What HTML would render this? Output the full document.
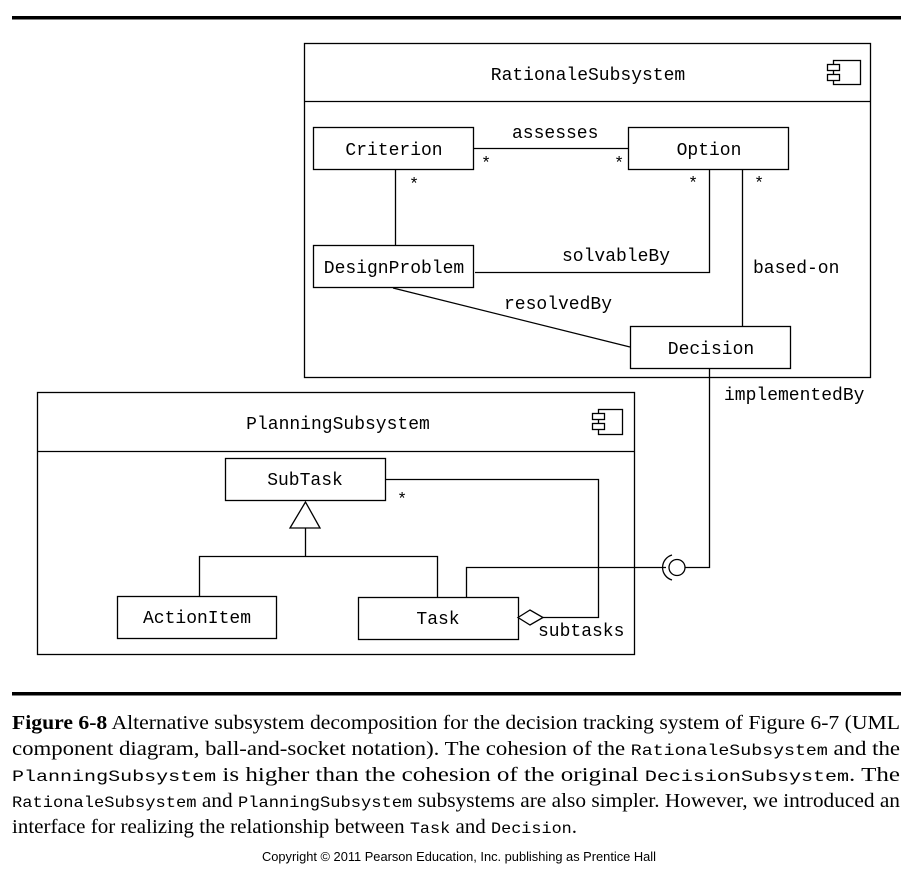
<!DOCTYPE html>
<html><head><meta charset="utf-8"><style>
html,body{margin:0;padding:0;background:#fff;}
svg{display:block}
.m{font-family:"Liberation Mono",monospace;font-size:18px;fill:#000}
.c{font-family:"Liberation Serif",serif;font-size:20px;fill:#000}
.cm{font-family:"Liberation Mono",monospace;font-size:16px}
</style></head><body>
<svg width="916" height="870" viewBox="0 0 916 870" xmlns="http://www.w3.org/2000/svg">
<rect x="12" y="16" width="889" height="3.5" fill="#000"/>
<g fill="none" stroke="#000" stroke-width="1.3">
<rect x="304.5" y="43.5" width="566" height="334"/>
<line x1="304" y1="101.5" x2="871" y2="101.5"/>
<rect x="313.5" y="127.5" width="160" height="42"/>
<rect x="628.5" y="127.5" width="160" height="42"/>
<rect x="313.5" y="245.5" width="160" height="42"/>
<rect x="630.5" y="326.5" width="160" height="42"/>
<line x1="474" y1="148.5" x2="628" y2="148.5"/>
<line x1="395.5" y1="170" x2="395.5" y2="245"/>
<polyline points="475,272.5 709.5,272.5 709.5,170"/>
<line x1="742.5" y1="170" x2="742.5" y2="326"/>
<line x1="393" y1="288" x2="630" y2="347"/>
<polyline points="709.5,369 709.5,567.5 685,567.5"/>
<rect x="833.5" y="60.5" width="27" height="24"/>
<rect x="827.5" y="64.5" width="12" height="6" fill="#fff"/>
<rect x="827.5" y="74.5" width="12" height="6" fill="#fff"/>
<rect x="37.5" y="392.5" width="597" height="262"/>
<line x1="37" y1="451.5" x2="635" y2="451.5"/>
<rect x="598.5" y="409.5" width="24" height="25"/>
<rect x="592.5" y="413.5" width="12" height="6" fill="#fff"/>
<rect x="592.5" y="423.5" width="12" height="6" fill="#fff"/>
<rect x="225.5" y="458.5" width="160" height="42"/>
<rect x="117.5" y="596.5" width="159" height="42"/>
<rect x="358.5" y="597.5" width="160" height="42"/>
<polygon points="305.5,502 290,528 320,528"/>
<line x1="305.5" y1="528" x2="305.5" y2="556"/>
<polyline points="199.5,597 199.5,556.5 437.5,556.5 437.5,597"/>
<polygon points="518,617.5 530,610 543,617.5 530,625"/>
<polyline points="543,617.5 598.5,617.5 598.5,479.5 385,479.5"/>
<polyline points="466.5,597 466.5,567.5 666,567.5"/>
<circle cx="677" cy="567.5" r="8"/>
<path d="M 672 555 A 13 13 0 0 0 672 580"/>
</g>
<g class="m">
<text x="588" y="80" text-anchor="middle">RationaleSubsystem</text>
<text x="394" y="155" text-anchor="middle">Criterion</text>
<text x="709" y="155" text-anchor="middle">Option</text>
<text x="394" y="273" text-anchor="middle">DesignProblem</text>
<text x="711" y="354" text-anchor="middle">Decision</text>
<text x="512" y="138">assesses</text>
<text x="562" y="261">solvableBy</text>
<text x="753" y="273">based-on</text>
<text x="504" y="309">resolvedBy</text>
<text x="724" y="400">implementedBy</text>
<text x="338" y="429" text-anchor="middle">PlanningSubsystem</text>
<text x="305" y="485" text-anchor="middle">SubTask</text>
<text x="197" y="623" text-anchor="middle">ActionItem</text>
<text x="438" y="624" text-anchor="middle">Task</text>
<text x="538" y="636">subtasks</text>
</g>
<g class="m" style="font-size:17px">
<text x="481" y="168">*</text>
<text x="614" y="168">*</text>
<text x="409" y="189">*</text>
<text x="688" y="188">*</text>
<text x="754" y="188">*</text>
<text x="397" y="504">*</text>
</g>
<rect x="12" y="692" width="889" height="3.5" fill="#000"/>
<text class="c" x="12" y="729" textLength="888" lengthAdjust="spacingAndGlyphs"><tspan font-weight="bold">Figure 6-8</tspan>   Alternative subsystem decomposition for the decision tracking system of Figure 6-7 (UML</text>
<text class="c" x="12" y="755" textLength="888" lengthAdjust="spacingAndGlyphs">component diagram, ball-and-socket notation). The cohesion of the <tspan class="cm">RationaleSubsystem</tspan> and the</text>
<text class="c" x="12" y="781" textLength="888" lengthAdjust="spacingAndGlyphs"><tspan class="cm">PlanningSubsystem</tspan>   is   higher   than   the   cohesion   of   the   original   <tspan class="cm">DecisionSubsystem</tspan>.   The</text>
<text class="c" x="12" y="807" textLength="888" lengthAdjust="spacingAndGlyphs"><tspan class="cm">RationaleSubsystem</tspan> and <tspan class="cm">PlanningSubsystem</tspan> subsystems are also simpler. However, we introduced an</text>
<text class="c" x="12" y="833" textLength="565" lengthAdjust="spacingAndGlyphs">interface for realizing the relationship between <tspan class="cm">Task</tspan> and <tspan class="cm">Decision</tspan>.</text>
<text x="459" y="861" text-anchor="middle" textLength="394" lengthAdjust="spacingAndGlyphs" style="font-family:'Liberation Sans',sans-serif;font-size:12.5px">Copyright © 2011 Pearson Education, Inc. publishing as Prentice Hall</text>
</svg>
</body></html>
